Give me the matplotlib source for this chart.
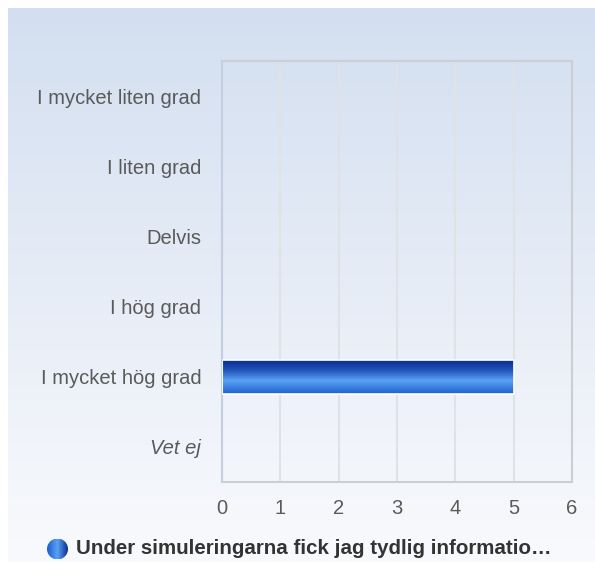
""" horizontal bar chart: Under simuleringarna fick jag tydlig information """
import matplotlib
import matplotlib.pyplot as plt
import matplotlib.colors as colors
from matplotlib.patches import Circle
import numpy as np
matplotlib.use('agg')

categories = ["I mycket liten grad", "I liten grad", "Delvis", "I hög grad",
              "I mycket hög grad", "Vet ej"]
values = [0, 0, 0, 0, 5, 0]
xticks = [0, 1, 2, 3, 4, 5, 6]
series_name = "Under simuleringarna fick jag tydlig informatio…"

plt.rcParams['font.family'] = ['Liberation Sans', 'DejaVu Sans']

W, H = 595, 562
fig = plt.figure(figsize=(W / 100, H / 100), dpi=100)
fig.patch.set_facecolor("white")

# background panel with vertical gradient
bg = fig.add_axes([8 / W, 0, 1 - 8 / W, 1 - 8 / H])
bg.set_axis_off()
bg_cmap = colors.LinearSegmentedColormap.from_list("bg", ["#d3dff0", "#f9fafd"])
bg.imshow(np.linspace(0, 1, 256).reshape(-1, 1), aspect="auto", cmap=bg_cmap,
          extent=[0, 1, 0, 1])

# plot area
left, right, top, bottom = 222, 572, 61, 482
ax = fig.add_axes([left / W, 1 - bottom / H, (right - left) / W, (bottom - top) / H])
ax.patch.set_alpha(0)

y = np.arange(len(categories))
bars = ax.barh(y, values, height=0.49, color="none", edgecolor="none", zorder=3)

bar_cmap = colors.LinearSegmentedColormap.from_list(
    "bar", [(0, "#082a8a"), (0.3, "#2050b8"), (0.62, "#5aa2f6"), (1, "#1c60cf")])
grad = np.linspace(0, 1, 128).reshape(-1, 1)
for b in bars:
    if b.get_width() == 0:
        continue
    b.set_edgecolor("white")
    b.set_linewidth(1.2)
    x0, y0 = b.get_x(), b.get_y()
    im = ax.imshow(grad, aspect="auto", cmap=bar_cmap, zorder=2,
                   extent=[x0, x0 + b.get_width(), y0 + b.get_height(), y0],
                   interpolation="bilinear")
    im.set_clip_path(b)

ax.set_xlim(0, 6)
ax.set_ylim(len(categories) - 0.5, -0.5)
ax.set_xticks(xticks)
ax.set_xticklabels([str(t) for t in xticks])
ax.set_yticks(y)
ax.set_yticklabels(categories)
ax.tick_params(axis="both", length=0, colors="#5a5a5a", labelsize=14.5)
ax.tick_params(axis="y", pad=15)
ax.tick_params(axis="x", pad=12)
ax.get_yticklabels()[-1].set_fontstyle("italic")

ax.grid(axis="x", color="#dfe2e6", linewidth=1.5, zorder=1)
ax.set_axisbelow(True)
for side in ["top", "right", "bottom"]:
    ax.spines[side].set_color("#cbcfd4")
    ax.spines[side].set_linewidth(1.5)
ax.spines["left"].set_color("#c3cfe0")
ax.spines["left"].set_linewidth(1.5)

# legend
lx, ly, r = 57.5, 549, 10.5
lax = fig.add_axes([(lx - r) / W, 1 - (ly + r) / H, 2 * r / W, 2 * r / H])
lax.set_axis_off()
leg_cmap = colors.LinearSegmentedColormap.from_list(
    "leg", ["#1c5cd0", "#5aa2f6", "#0a2f90"])
lim = lax.imshow(np.linspace(0, 1, 64).reshape(1, -1), aspect="auto",
                 cmap=leg_cmap, extent=[0, 1, 0, 1])
circ = Circle((0.5, 0.5), 0.5, transform=lax.transData)
lim.set_clip_path(circ)
lax.set_xlim(0, 1)
lax.set_ylim(0, 1)

fig.text(76 / W, 1 - ly / H, series_name, fontsize=14.8, fontweight="bold",
         color="#333333", va="center", ha="left")

fig.savefig("out.png", dpi=100)
